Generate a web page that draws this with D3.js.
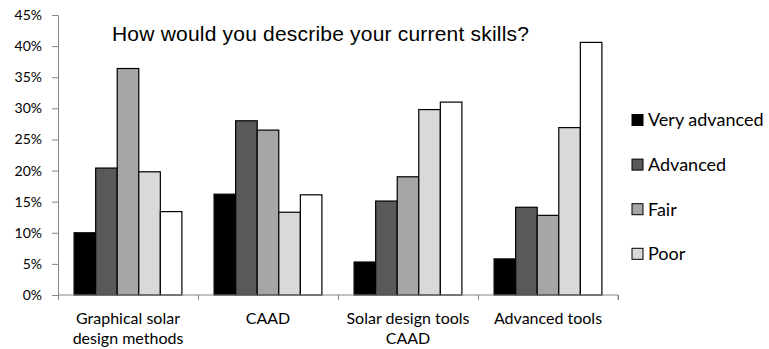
<!DOCTYPE html>
<html>
<head>
<meta charset="utf-8">
<script src="https://cdn.jsdelivr.net/npm/d3@7"></script>
<style>
  html, body { margin: 0; padding: 0; background: #fff; }
  svg { display: block; }
</style>
</head>
<body>
<svg id="chart" width="769" height="349"></svg>
<script>
// Survey results: self-assessed skill level per topic (share of respondents)
const categories = [
  ["Graphical solar", "design methods"],
  ["CAAD"],
  ["Solar design tools", "CAAD"],
  ["Advanced tools"]
];
const seriesNames = ["Very advanced", "Advanced", "Fair", "Poor", "None"];
const seriesColors = ["#000000", "#595959", "#a6a6a6", "#d9d9d9", "#ffffff"];
const legendNames = ["Very advanced", "Advanced", "Fair", "Poor"];

const veryAdvanced = [10.0, 16.2, 5.3, 5.8];
const advanced     = [20.4, 28.0, 15.1, 14.1];
const fair         = [36.4, 26.5, 19.0, 12.8];
const poor         = [19.8, 13.3, 29.8, 26.9];
const none         = [13.4, 16.1, 31.0, 40.6];
const seriesValues = [veryAdvanced, advanced, fair, poor, none];

const yTicks = [0, 5, 10, 15, 20, 25, 30, 35, 40, 45];
const title = "How would you describe your current skills?";

const svg = d3.select("#chart");
const margin = { left: 58, right: 151, top: 15, bottom: 54 };
const width = 769, height = 349;

const x0 = d3.scaleBand()
  .domain(d3.range(categories.length))
  .range([margin.left, width - margin.right])
  .paddingInner(0.23)
  .paddingOuter(0.115);
const x1 = d3.scaleBand()
  .domain(d3.range(seriesNames.length))
  .range([0, x0.bandwidth()]);
const y = d3.scaleLinear()
  .domain([0, 45])
  .range([height - margin.bottom, margin.top]);

const axisColor = "#868686";
const labelFont = "Lato, 'Open Sans', sans-serif";

// Y axis
const yAxis = svg.append("g")
  .attr("transform", `translate(${margin.left},0)`)
  .call(d3.axisLeft(y).tickValues(yTicks).tickSize(6).tickPadding(10)
    .tickFormat(d => d + "%"));
yAxis.select(".domain").attr("stroke", axisColor);
yAxis.selectAll(".tick line").attr("stroke", axisColor);
yAxis.selectAll(".tick text")
  .attr("fill", "#000")
  .style("font-family", labelFont)
  .style("font-size", "14px");

// Bars
const groups = svg.append("g").selectAll("g")
  .data(categories)
  .join("g")
  .attr("transform", (d, i) => `translate(${x0(i)},0)`);
groups.selectAll("rect")
  .data((d, i) => seriesValues.map((vals, s) => ({ s, v: vals[i] })))
  .join("rect")
  .attr("x", d => x1(d.s))
  .attr("width", x1.bandwidth())
  .attr("y", d => y(d.v))
  .attr("height", d => y(0) - y(d.v))
  .attr("fill", d => seriesColors[d.s])
  .attr("stroke", "#000")
  .attr("stroke-width", 1.2);

// X axis with boundary ticks between categories
const xEdge = d3.scaleLinear()
  .domain([0, categories.length])
  .range([margin.left, width - margin.right]);
const xAxis = svg.append("g")
  .attr("transform", `translate(0,${y(0)})`)
  .call(d3.axisBottom(xEdge).ticks(categories.length).tickSize(5).tickFormat(""));
xAxis.select(".domain").attr("stroke", axisColor).attr("d",
  `M${margin.left},0H${width - margin.right}V5`);
xAxis.selectAll(".tick line").attr("stroke", axisColor);

// Category labels (one tspan per line)
const catLabels = svg.append("g").selectAll("text")
  .data(categories)
  .join("text")
  .attr("x", (d, i) => x0(i) + x0.bandwidth() / 2)
  .attr("y", 324)
  .attr("text-anchor", "middle")
  .style("font-family", labelFont)
  .style("font-size", "16px")
  .attr("fill", "#000");
catLabels.selectAll("tspan")
  .data(d => d)
  .join("tspan")
  .attr("x", function () { return d3.select(this.parentNode).attr("x"); })
  .attr("dy", (d, i) => i === 0 ? 0 : 20)
  .text(d => d);

// Title
svg.append("text")
  .attr("x", 112)
  .attr("y", 41)
  .style("font-family", "'Liberation Sans', Arial, sans-serif")
  .style("font-size", "21px")
  .style("letter-spacing", "0.2px")
  .attr("fill", "#000")
  .text(title);

// Legend
const legend = svg.append("g").selectAll("g")
  .data(legendNames)
  .join("g")
  .attr("transform", (d, i) => `translate(632,${120 + i * 44.6})`);
legend.append("rect")
  .attr("x", 0).attr("y", -5.5)
  .attr("width", 11).attr("height", 11)
  .attr("fill", (d, i) => seriesColors[i])
  .attr("stroke", "#000")
  .attr("stroke-width", 1);
legend.append("text")
  .attr("x", 16)
  .attr("y", 0)
  .attr("dy", "0.35em")
  .style("font-family", labelFont)
  .style("font-size", "18px")
  .attr("fill", "#000")
  .text(d => d);
</script>
</body>
</html>
